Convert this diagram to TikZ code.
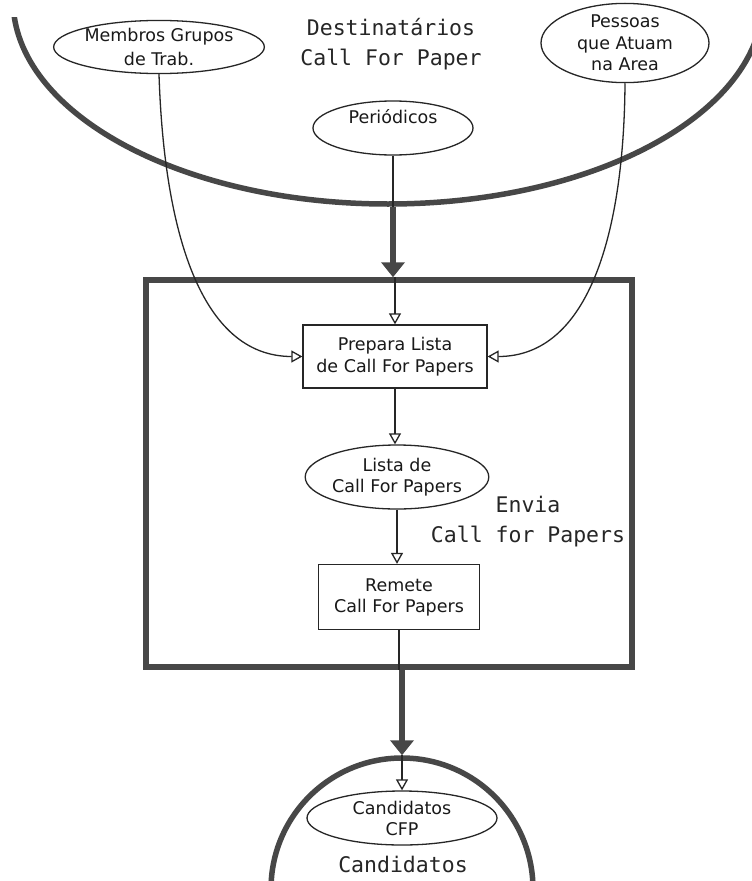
\documentclass[tikz,border=0pt]{standalone}
\usepackage{fontspec}
\setmainfont{DejaVu Sans}
\newfontfamily\monofam{DejaVu Sans Mono}
\usetikzlibrary{arrows.meta,shapes.geometric}

\tikzset{
  ink/.style={draw=black!85, line width=1.3pt},
  heavy/.style={draw=black!72, line width=5.5pt},
  smalltext/.style={font=\fontsize{17.5}{22}\selectfont, text=black!90},
  oval/.style={ellipse, ink, inner sep=0pt, align=center, smalltext},
  procbox/.style={rectangle, ink, inner sep=0pt, align=center, smalltext},
  flow/.style={ink, -{Triangle[open, width=12pt, length=11pt]}},
  bigflow/.style={heavy, -{Triangle[width=23pt, length=15pt]}},
  caption/.style={font=\monofam\fontsize{21.5}{30}\selectfont, align=center, text=black!85},
}

\begin{document}
\begin{tikzpicture}[x=1pt, y=-1pt]
\useasboundingbox (0,0) rectangle (752,881);
\fill[white] (0,0) rectangle (752,881);
\begin{scope}
\clip (0,0) rectangle (752,881);

% bowl of the recipients store (its upper rim is cut off)
\begin{scope}
\clip (0,17) rectangle (752,881);
\node[ellipse, heavy, minimum width=750pt, minimum height=408pt, inner sep=0pt] (dest) at (388,0) {};
\end{scope}
\node[caption] (desttitle) at (391,44) {Destinatários\\Call For Paper};

% sources
\node[oval, minimum width=208pt, minimum height=52pt, font=\fontsize{17.5}{24}\selectfont] (mem) at (159,47) {Membros Grupos\\de Trab.};
\node[oval, minimum width=168pt, minimum height=76pt, font=\fontsize{17.5}{21.5}\selectfont] (pes) at (625,43) {Pessoas\\que Atuam\\na Area};
\node[oval, minimum width=160pt, minimum height=54pt,
      label={[smalltext, yshift=11pt]center:Periódicos}] (per) at (393,128) {};

% process boundary
\node[rectangle, heavy, minimum width=486pt, minimum height=387pt, inner sep=0pt] (envia) at (389,473.5) {};
\node[caption] (enviatitle) at (528,522) {Envia\\Call for Papers};

% inner steps
\node[procbox, minimum width=184pt, minimum height=63pt] (prep) at (395,356.5) {Prepara Lista\\de Call For Papers};
\node[oval, minimum width=162pt, minimum height=64pt, font=\fontsize{17.5}{21}\selectfont] (lista) at (397,477) {Lista de\\Call For Papers};
\node[procbox, minimum width=161pt, minimum height=65pt, font=\fontsize{17.5}{21}\selectfont] (rem) at (399,597) {Remete\\Call For Papers};

% candidates store
\node[circle, heavy, minimum size=262pt, inner sep=0pt] (cand) at (402,889) {};
\node[oval, minimum width=190pt, minimum height=54pt, font=\fontsize{17.5}{21}\selectfont] (cfp) at (402,818) {Candidatos\\CFP};
\node[caption, anchor=base] (candtitle) at (403,872) {Candidatos};

% flows
\draw[ink] (per.south) -- (dest.south -| per);
\draw[bigflow] (dest.south -| per) -- (envia.north -| per);
\draw[flow] (envia.north -| prep) -- (prep.north);
\draw[flow] (mem.south) .. controls (164,230) and (200,356.5) .. (prep.west);
\draw[flow] (pes.south) .. controls (624,230) and (590,356.5) .. (prep.east);
\draw[flow] (prep.south) -- (prep.south |- lista.north);
\draw[flow] (lista.south) -- (lista.south |- rem.north);
\draw[ink] (rem.south) -- (envia.south -| rem);
\draw[bigflow] (envia.south -| cand) -- (cand.north);
\draw[flow] (cand.north) -- (cfp.north);
\end{scope}
\end{tikzpicture}
\end{document}
